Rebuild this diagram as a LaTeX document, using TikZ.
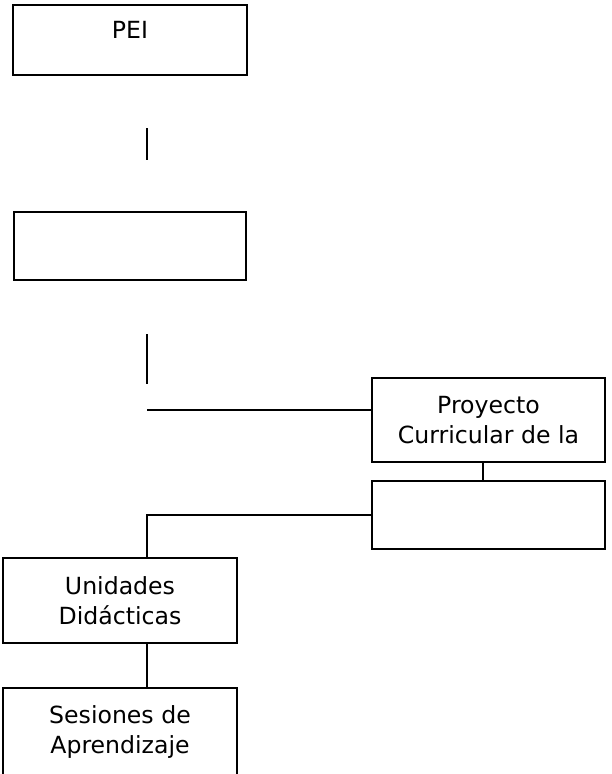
\documentclass[tikz,border=0pt]{standalone}
\usepackage{fontspec}
\setmainfont{DejaVu Sans}
\usetikzlibrary{positioning,calc}

\begin{document}
\begin{tikzpicture}[x=1pt,y=-1pt,line width=1.1pt,
  box/.style={draw,minimum width=234pt,inner sep=0pt,align=center,
    font=\fontsize{23.6}{30.5}\selectfont}]
  \useasboundingbox (0,0) rectangle (612,774);
  \coordinate (spine) at (147,0);

  \node[box,text height=33pt,text depth=37pt] (pei) at (130,40) {PEI};
  \node[box,minimum width=232pt,minimum height=68pt] (blank1) at (130,246) {};
  \node[box,minimum width=233pt,minimum height=84pt] (pcr) at (488.5,420) {Proyecto\\Curricular de la};
  \node[box,minimum width=233pt,minimum height=68pt] (blank2) at (488.5,515) {};
  \node[box,minimum height=85pt] (uni) at (120,600.5) {Unidades\\Didácticas};
  \node[box,minimum height=88pt] (ses) at (120,732) {Sesiones de\\Aprendizaje};

  % loose pieces of the spine
  \coordinate (a1) at (147,128);
  \coordinate (a2) at (147,160);
  \coordinate (b1) at (147,334);
  \coordinate (b2) at (147,384);
  \coordinate (c1) at (147,410);
  \draw (a1) -- (a2);
  \draw (b1) -- (b2);
  \draw (c1) -- (c1 -| pcr.west);

  \draw ([xshift=-5.5pt]pcr.south) -- ([xshift=-5.5pt]pcr.south |- blank2.north);
  \draw (blank2.west) -| (spine |- uni.north);
  \draw (spine |- uni.south) -- (spine |- ses.north);
\end{tikzpicture}
\end{document}
